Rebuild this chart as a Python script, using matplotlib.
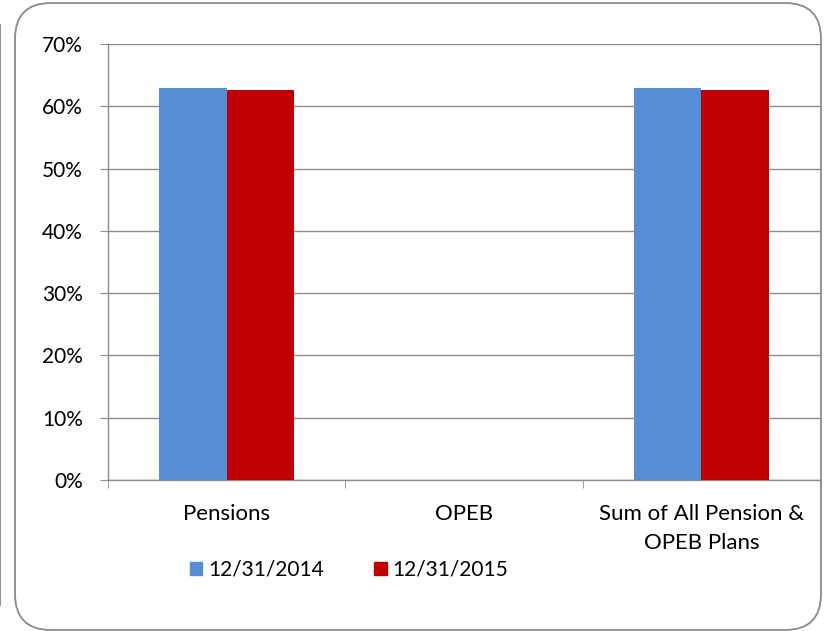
import numpy as np
import matplotlib.pyplot as plt
from matplotlib.patches import FancyBboxPatch, Patch
from matplotlib.lines import Line2D

categories = ["Pensions", "OPEB", "Sum of All Pension &\nOPEB Plans"]
series_names = ["12/31/2014", "12/31/2015"]
vals_2014 = [0.630, 0.0, 0.630]
vals_2015 = [0.626, 0.0, 0.626]
colors = ["#558ED5", "#C00000"]
yticks = [0, 0.1, 0.2, 0.3, 0.4, 0.5, 0.6, 0.7]

plt.rcParams['font.family'] = ['Lato', 'DejaVu Sans']
fs = 15

fig = plt.figure(figsize=(8.36, 6.31), dpi=100)

# rounded chart frame, kept behind the axes
frame = FancyBboxPatch((0.15, 0.01), 8.06, 6.27, boxstyle="round,pad=0,rounding_size=0.36",
                       transform=fig.dpi_scale_trans, facecolor='white', edgecolor='#8a8a8a',
                       lw=1.3, zorder=-5)
fig.patches.append(frame)
# stray grey line on the far left
fig.lines.append(Line2D([0.0005, 0.0005], [1 - 25/631, 1 - 605/631], transform=fig.transFigure,
                        color='#909090', lw=1.5, zorder=-5))

ax = fig.add_axes([108/836, 1 - 480/631, 712/836, 436/631])
ax.set_facecolor('none')

x = np.arange(len(categories))
w = 0.284
ax.bar(x - w/2, vals_2014, w, color=colors[0], label=series_names[0], zorder=3)
ax.bar(x + w/2, vals_2015, w, color=colors[1], label=series_names[1], zorder=3)

ax.set_xlim(-0.5, len(categories) - 0.5)
ax.set_ylim(0, 0.7)
ax.set_yticks(yticks)
ax.set_yticklabels([f"{int(round(t*100))}%" for t in yticks], fontsize=fs)
ax.yaxis.grid(True, color='#8c8c8c', lw=1, zorder=0)
ax.tick_params(axis='y', length=6, color='#8c8c8c', pad=12)

ax.set_xticks(x)
ax.set_xticklabels(categories, fontsize=16)
ax.set_xticks(np.arange(len(categories) + 1) - 0.5, minor=True)
ax.tick_params(axis='x', which='major', length=0, pad=17)
ax.tick_params(axis='x', which='minor', length=6, color='#8c8c8c')
for lab in ax.get_xticklabels():
    lab.set_linespacing(1.6)
    lab.set_verticalalignment('top')

for s in ['top', 'right']:
    ax.spines[s].set_visible(False)
for s in ['left', 'bottom']:
    ax.spines[s].set_color('#8c8c8c')
    ax.spines[s].set_linewidth(1)

handles = [Patch(color=colors[0]), Patch(color=colors[1])]
fig.legend(handles, series_names, loc='center', bbox_to_anchor=(349/836, 1 - 570/631), ncol=2,
           frameon=False, fontsize=fs, handlelength=0.6, handleheight=0.6, handletextpad=0.3,
           columnspacing=2.4)

fig.savefig('out.png', dpi=100)
